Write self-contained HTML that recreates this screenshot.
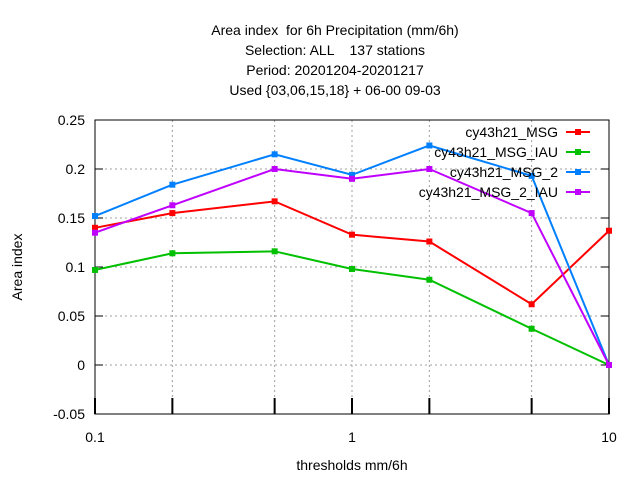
<!DOCTYPE html>
<html><head><meta charset="utf-8"><style>
body{margin:0;background:#fff}
svg{font-family:"Liberation Sans",sans-serif}
text{white-space:pre}
</style></head><body>
<svg width="640" height="480" viewBox="0 0 640 480">
<g font-size="14" text-anchor="middle" fill="#000">
<text x="335" y="35" xml:space="preserve">Area index  for 6h Precipitation (mm/6h)</text>
<text x="335" y="55" xml:space="preserve">Selection: ALL    137 stations</text>
<text x="335" y="75">Period: 20201204-20201217</text>
<text x="335" y="95">Used {03,06,15,18} + 06-00 09-03</text>
</g>
<g id="grid"></g>
<g id="axes"></g>
<g id="series"></g>
<g id="legend"></g>
<text x="352" y="470" font-size="14" text-anchor="middle">thresholds mm/6h</text>
<text transform="translate(22,267) rotate(-90)" font-size="14" text-anchor="middle">Area index</text>
</svg>
<script>
const thresholds=[0.1,0.2,0.5,1,2,5,10];
const seriesNames=["cy43h21_MSG","cy43h21_MSG_IAU","cy43h21_MSG_2","cy43h21_MSG_2_IAU"];
const redVals=[0.140,0.155,0.167,0.133,0.126,0.062,0.137];
const greenVals=[0.097,0.114,0.116,0.098,0.087,0.037,0.0];
const blueVals=[0.152,0.184,0.215,0.194,0.224,0.193,0.0];
const purpleVals=[0.135,0.163,0.200,0.190,0.200,0.155,0.0];
const yTicks=[-0.05,0,0.05,0.1,0.15,0.2,0.25];
const yTickLabels=["-0.05","0","0.05","0.1","0.15","0.2","0.25"];
const xTicks=[0.1,1,10];
const xTickLabels=["0.1","1","10"];
const NS="http://www.w3.org/2000/svg";
const L=95,R=609,T=120,B=414;
const xs=v=>L+(Math.log10(v)+1)/2*(R-L);
const ys=v=>B-(v+0.05)/0.3*(B-T);
function mk(tag,attrs,parent){const e=document.createElementNS(NS,tag);for(const k in attrs)e.setAttribute(k,attrs[k]);parent.appendChild(e);return e;}
const grid=document.getElementById('grid'),axes=document.getElementById('axes'),ser=document.getElementById('series'),leg=document.getElementById('legend');
yTicks.forEach((t,i)=>{const y=ys(t);
 if(i>0&&i<yTicks.length-1){const g=mk('line',{x1:L,x2:R,y1:y,y2:y,stroke:'#a0a0a0','stroke-dasharray':'2,3','stroke-width':1},grid);}
 const tk=mk('line',{x1:L,x2:L+8,y1:y,y2:y,stroke:'#000'},axes);
 const tk2=mk('line',{x1:R-8,x2:R,y1:y,y2:y,stroke:'#000'},axes);
 const lb=mk('text',{x:L-10,y:y+5,'font-size':14,'text-anchor':'end'},axes);lb.textContent=yTickLabels[i];});
thresholds.forEach(t=>{const x=xs(t);
 if(t>0.1&&t<10){const g=mk('line',{x1:x,x2:x,y1:T,y2:B,stroke:'#a0a0a0','stroke-dasharray':'2,3'},grid);}
 const tk=mk('line',{x1:x,x2:x,y1:B-16,y2:B,stroke:'#000','stroke-width':2},axes);});
xTicks.forEach((t,i)=>{const lb=mk('text',{x:xs(t),y:B+28,'font-size':14,'text-anchor':'middle'},axes);lb.textContent=xTickLabels[i];});
const fr=mk('rect',{x:L,y:T,width:R-L,height:B-T,fill:'none',stroke:'#000'},axes);
const colors=["#ff0000","#00c000","#0080ff","#c000ff"];
const allVals=[redVals,greenVals,blueVals,purpleVals];
allVals.forEach((vals,si)=>{
 const g=mk('g',{},ser);
 const p=mk('polyline',{points:vals.map((v,i)=>xs(thresholds[i])+','+ys(v)).join(' '),fill:'none',stroke:colors[si],'stroke-width':2},g);
 vals.forEach((v,i)=>{const m=mk('rect',{x:xs(thresholds[i])-3,y:ys(v)-3,width:6,height:6,fill:colors[si]},g);});
 const ly=132+si*20;
 const lt=mk('text',{x:558,y:ly+5,'font-size':14,'text-anchor':'end'},leg);lt.textContent=seriesNames[si];
 const ll=mk('line',{x1:566,x2:590,y1:ly,y2:ly,stroke:colors[si],'stroke-width':2},leg);
 const lm=mk('rect',{x:575,y:ly-3,width:6,height:6,fill:colors[si]},leg);
});
</script>
</body></html>
